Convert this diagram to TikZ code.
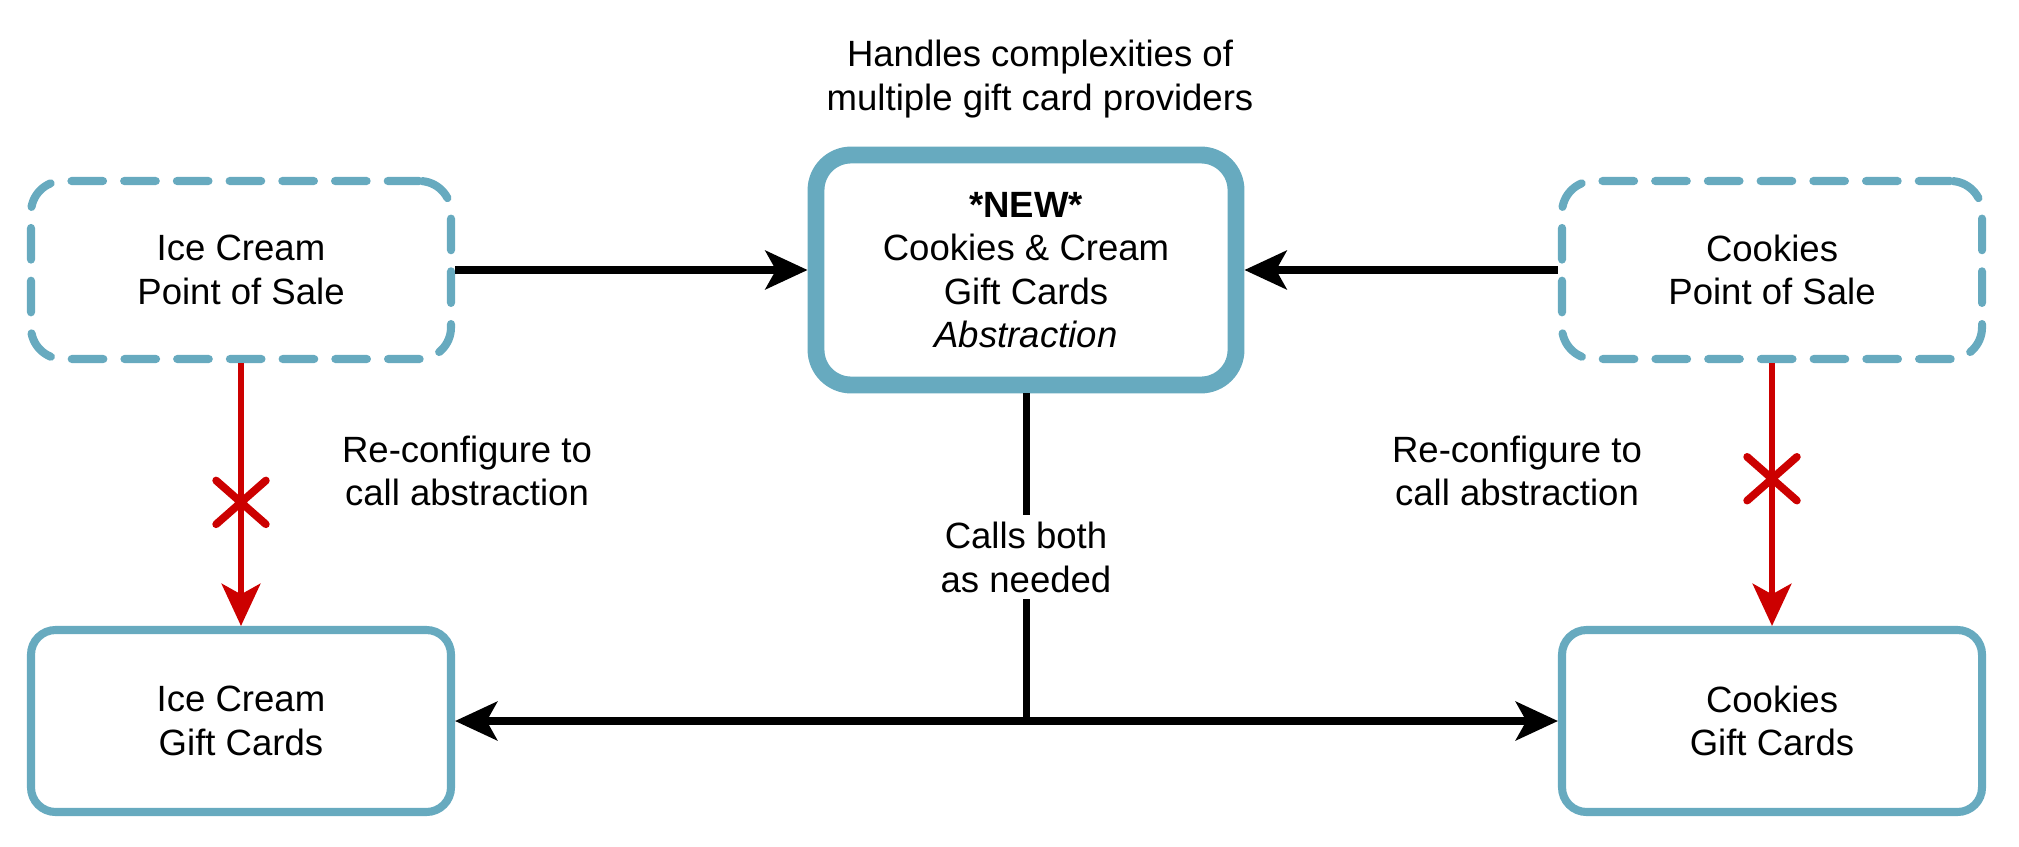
\documentclass[tikz,border=0pt]{standalone}
\usepackage{fontspec}
\setmainfont{Liberation Sans}
\usetikzlibrary{arrows.meta,shapes.misc}

\definecolor{sketchblue}{RGB}{103,170,191}
\definecolor{stopred}{RGB}{204,0,0}

\tikzset{
  every node/.style={font=\fontsize{10.4}{12.4}\selectfont, align=center},
  oldbox/.style={draw=sketchblue, line width=2.3pt, dash pattern=on 9pt off 6pt, line cap=round, rounded corners=9pt, minimum width=4.2cm, minimum height=1.78cm},
  cardbox/.style={draw=sketchblue, line width=2.3pt, rounded corners=7pt, minimum width=4.2cm, minimum height=1.82cm},
  newbox/.style={draw=sketchblue, line width=4.8pt, rounded corners=10pt, minimum width=4.2cm, minimum height=2.3cm},
  callarrow/.style={-{Stealth[length=12pt, width=11pt, inset=3pt]}, line width=2pt},
  redarrow/.style={-{Stealth[length=12pt, width=11pt, inset=3pt]}, line width=1.7pt, draw=stopred},
  crossmark/.style={cross out, draw=stopred, line width=2.2pt, line cap=round, minimum width=0.42cm, minimum height=0.36cm, inner sep=0pt}
}

\begin{document}
\begin{tikzpicture}
	\useasboundingbox (0,0) rectangle (20.19,-8.46);
	% the boxes
	\node [oldbox] (icepos) at (2.41,-2.70) {Ice Cream\\Point of Sale};
	\node [oldbox] (cookiepos) at (17.72,-2.70) {Cookies\\Point of Sale};
	\node [newbox] (bridge) at (10.26,-2.70) {\textbf{*NEW*}\\Cookies \& Cream\\Gift Cards\\\textit{Abstraction}};
	\node [cardbox] (icegift) at (2.41,-7.21) {Ice Cream\\Gift Cards};
	\node [cardbox] (cookiegift) at (17.72,-7.21) {Cookies\\Gift Cards};
	% labels
	\node (handles) at (10.40,-0.79) {Handles complexities of\\multiple gift card providers};
	\node (reconfleft) at (4.67,-4.71) {Re-configure to\\call abstraction};
	\node (reconfright) at (15.17,-4.71) {Re-configure to\\call abstraction};
	% calls into the abstraction
	\draw [callarrow] (icepos.east) -- (bridge.west);
	\draw [callarrow] (cookiepos.west) -- (bridge.east);
	% the abstraction calls both
	\coordinate (split) at (bridge.south |- icegift.east);
	\draw [line width=2pt] (bridge.south) -- node [fill=white, inner sep=2pt] (both) {Calls both\\as needed} (split);
	\draw [callarrow] (split) -- (icegift.east);
	\draw [callarrow] (split) -- (cookiegift.west);
	% old direct calls, crossed out
	\draw [redarrow] (icepos.south) -- node [pos=0.53, crossmark] (crossleft) {} (icegift.north);
	\draw [redarrow] (cookiepos.south) -- node [pos=0.44, crossmark] (crossright) {} (cookiegift.north);
\end{tikzpicture}
\end{document}
